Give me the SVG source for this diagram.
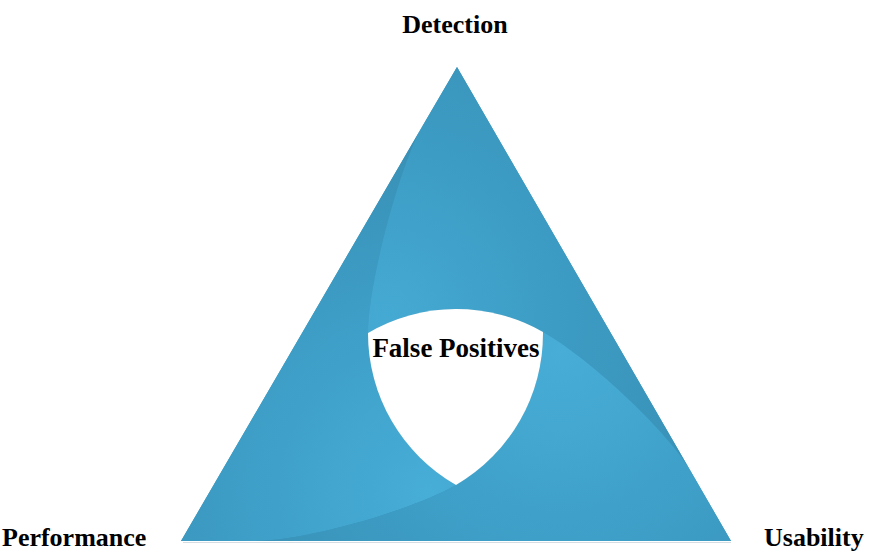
<svg xmlns="http://www.w3.org/2000/svg" width="869" height="553" viewBox="0 0 869 553">
  <style>
    .lbl { font-family: "Liberation Serif", "Times New Roman", serif; font-weight: bold; font-size: 26px; fill: #000; }
  </style>
  <defs>
    <radialGradient id="gL" gradientUnits="userSpaceOnUse" cx="428" cy="492" r="340">
      <stop offset="0" stop-color="#47aed7"/>
      <stop offset="0.45" stop-color="#3fa1ca"/>
      <stop offset="1" stop-color="#3991b7"/>
    </radialGradient>
    <radialGradient id="gT" gradientUnits="userSpaceOnUse" cx="385" cy="318" r="345">
      <stop offset="0" stop-color="#45aad3"/>
      <stop offset="0.45" stop-color="#3d9dc5"/>
      <stop offset="1" stop-color="#3991b7"/>
    </radialGradient>
    <radialGradient id="gB" gradientUnits="userSpaceOnUse" cx="560" cy="352" r="360">
      <stop offset="0" stop-color="#48aed7"/>
      <stop offset="0.45" stop-color="#3fa1ca"/>
      <stop offset="1" stop-color="#3992b8"/>
    </radialGradient>
  </defs>

  <g id="triangle">
    <line x1="183" y1="542.5" x2="731" y2="542.5" stroke="#c5d0d6" stroke-width="1.2" opacity="0.7"/>
    <path d="M457,67 L181,541 L731,541 Z" fill="#3a94ba"/>
    <path id="piece-left" d="M423,125 L181,541 L255,541 C305,541 412.7,510 456,485 A175,175 0 0 1 368,333 C368,283 400.4,163.9 423,125 Z" fill="url(#gL)"/>
    <path id="piece-top" d="M457,67 L423,125 C400.4,163.9 368,283 368,333 A175,175 0 0 1 543,332 C595,362 670,435 690,470 Z" fill="url(#gT)"/>
    <path id="piece-bottom" d="M731,541 L255,541 C305,541 412.7,510 456,485 A175,175 0 0 0 543,332 C595,362 670,435 690,470 Z" fill="url(#gB)"/>
  </g>

  <g id="false-positives">
    <path d="M368,333 A175,175 0 0 1 543,332 A175,175 0 0 1 456,485 A175,175 0 0 1 368,333 Z" fill="#ffffff"/>
    <text class="lbl" x="456" y="357" text-anchor="middle" style="font-size:27px">False Positives</text>
  </g>

  <g id="detection">
    <text class="lbl" x="455" y="33" text-anchor="middle">Detection</text>
  </g>
  <g id="performance">
    <text class="lbl" x="2" y="546">Performance</text>
  </g>
  <g id="usability">
    <text class="lbl" x="764" y="546">Usability</text>
  </g>
</svg>
